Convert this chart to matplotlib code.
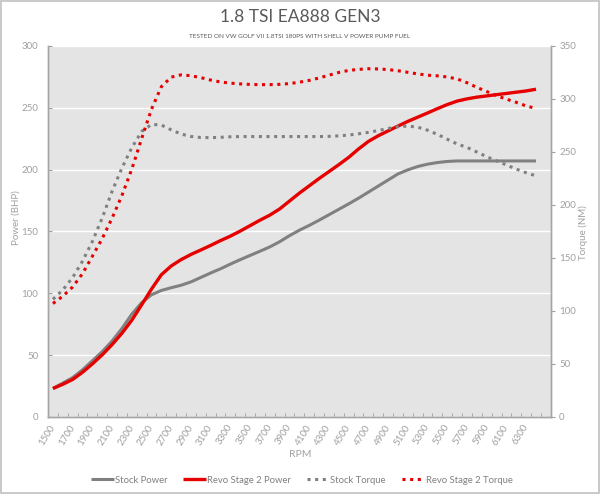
import numpy as np
import matplotlib
matplotlib.use('Agg')
import matplotlib.pyplot as plt
from matplotlib.patches import Rectangle

plt.rcParams['font.family'] = ['Lato', 'DejaVu Sans']

# rpm categories (1500..6500 step 100), data runs to 6400
rpm = list(range(1500, 6600, 100))

stock_power = [23, 27.4, 31.8, 38.1, 45.4, 52.8, 61.4, 71.5, 83.1, 92.4,
               98.8, 102.3, 104.5, 106.5, 109.2, 112.8, 116.4, 119.8, 123.6, 127.2,
               130.6, 134, 137.5, 141.7, 146.6, 151, 154.9, 159.1, 163.5, 167.9,
               172.3, 176.9, 181.8, 186.7, 191.6, 196.5, 199.8, 202.5, 204.4, 205.7,
               206.6, 207, 207, 207, 207, 207, 207, 207, 207, 207]

revo_power = [23, 26.4, 30.3, 36.1, 42.9, 50.2, 58.5, 67.7, 78.2, 90.7,
              103.4, 115, 122.1, 127.2, 131.4, 135, 138.7, 142.6, 146.2, 150.3,
              154.7, 159.1, 163.2, 168.2, 174.6, 181, 186.9, 192.8, 198.4, 204,
              209.9, 216.7, 222.8, 227.4, 231.3, 235.2, 239, 242.4, 245.8, 249.3,
              252.6, 255.4, 257.2, 258.6, 259.6, 260.6, 261.6, 262.6, 263.6, 265]

stock_torque = [111, 119.8, 131.5, 147, 165.5, 187.7, 212.9, 234.9, 254, 269.3,
                276, 275.4, 270.8, 266.9, 264.6, 263.6, 263.5, 263.8, 264.3, 264.5,
                264.5, 264.5, 264.5, 264.5, 264.5, 264.5, 264.5, 264.5, 264.7, 265.2,
                265.9, 267.1, 268.5, 270.2, 272.1, 273.8, 274.4, 273.4, 270.5, 266.6,
                262, 257.5, 254.3, 249.9, 245.5, 241.6, 237.7, 233.8, 230.4, 227.4]

revo_torque = [107, 113.9, 122.6, 135.2, 151.6, 168.3, 187.6, 208.9, 233.8, 262.6,
               290.4, 311.6, 320.6, 322.7, 321.9, 320.1, 317.8, 316, 314.9, 314.2,
               313.7, 313.5, 313.5, 313.8, 314.5, 315.8, 317.5, 319.8, 322.4, 325,
               326.9, 327.9, 328.5, 328.3, 327.7, 326.6, 325.1, 323.6, 322.4, 321.8,
               320.7, 318.9, 315.3, 310.9, 307, 303.1, 299.8, 296.8, 293.4, 291]

GREY = '#808080'
RED = '#e60000'
TXT = '#a0a0a0'


def main():
    fig = plt.figure(figsize=(6, 4.94), dpi=100)
    fig.patch.set_facecolor('white')
    fig.patches.append(Rectangle((0.002, 0.002), 0.996, 0.996, transform=fig.transFigure,
                                 fill=False, edgecolor='#c0c0c0', lw=1.2))

    ax = fig.add_axes([0.08, 0.156, 0.838, 0.751])
    ax.set_facecolor('#e4e4e4')
    ax2 = ax.twinx()

    x = np.arange(len(stock_power))
    n = len(rpm)

    l1, = ax.plot(x, stock_power, color=GREY, lw=2.2, solid_capstyle='butt')
    l2, = ax.plot(x, revo_power, color=RED, lw=2.4, solid_capstyle='butt')
    l3, = ax2.plot(x, stock_torque, color=GREY, lw=2.2, dashes=(1, 1.5), dash_capstyle='butt')
    l4, = ax2.plot(x, revo_torque, color=RED, lw=2.2, dashes=(1, 1.5), dash_capstyle='butt')

    ax.set_xlim(-0.5, n - 0.5)
    ax2.set_xlim(-0.5, n - 0.5)
    ax.set_ylim(0, 300)
    ax2.set_ylim(0, 350)

    ax.set_yticks(range(0, 301, 50))
    ax2.set_yticks(range(0, 351, 50))
    ax.yaxis.grid(True, color='white', lw=1)
    ax.set_axisbelow(True)

    # every other category labelled, last one (6500) left blank
    ax.set_xticks(np.arange(0, n - 1, 2))
    ax.set_xticklabels([str(r) for r in rpm[:-1:2]], rotation=58, ha='right',
                       va='center', rotation_mode='anchor')
    ax.set_xticks(np.arange(-0.5, n, 1), minor=True)
    ax.tick_params(axis='x', which='major', length=0, pad=6, labelsize=7, labelcolor=TXT)
    ax.tick_params(axis='x', which='minor', length=3, direction='in', color='#a0a0a0')
    ax.tick_params(axis='y', length=3, direction='in', color='#a0a0a0', labelsize=7,
                   labelcolor=TXT, pad=7)
    ax2.tick_params(axis='y', length=3, direction='out', color='#a0a0a0', labelsize=7,
                    labelcolor=TXT, pad=3)

    for a in (ax, ax2):
        a.spines['top'].set_visible(False)
        for s in ('left', 'right', 'bottom'):
            a.spines[s].set_color('#a6a6a6')
            a.spines[s].set_linewidth(1)

    fig.text(0.5, 0.965, '1.8 TSI EA888 GEN3', ha='center', va='center',
             fontsize=12.5, color='#595959')
    fig.text(0.5, 0.927, 'TESTED ON VW GOLF VII 1.8TSI 180PS WITH SHELL V POWER PUMP FUEL',
             ha='center', va='center', fontsize=4.6, color='#595959')

    fig.text(0.027, 0.56, 'Power (BHP)', rotation=90, ha='center', va='center',
             fontsize=7, color=TXT)
    fig.text(0.972, 0.53, 'Torque (NM)', rotation=90, ha='center', va='center',
             fontsize=7, color=TXT)
    fig.text(0.5, 0.079, 'RPM', ha='center', va='center', fontsize=7.5, color=TXT)

    fig.legend([l1, l2, l3, l4],
               ['Stock Power', 'Revo Stage 2 Power', 'Stock Torque', 'Revo Stage 2 Torque'],
               loc='center', bbox_to_anchor=(0.503, 0.028), ncol=4, frameon=False,
               fontsize=6.8, labelcolor=GREY, handlelength=2.4, handletextpad=0.1,
               columnspacing=1.7)

    fig.savefig('out.png', dpi=100)


if __name__ == '__main__':
    main()
